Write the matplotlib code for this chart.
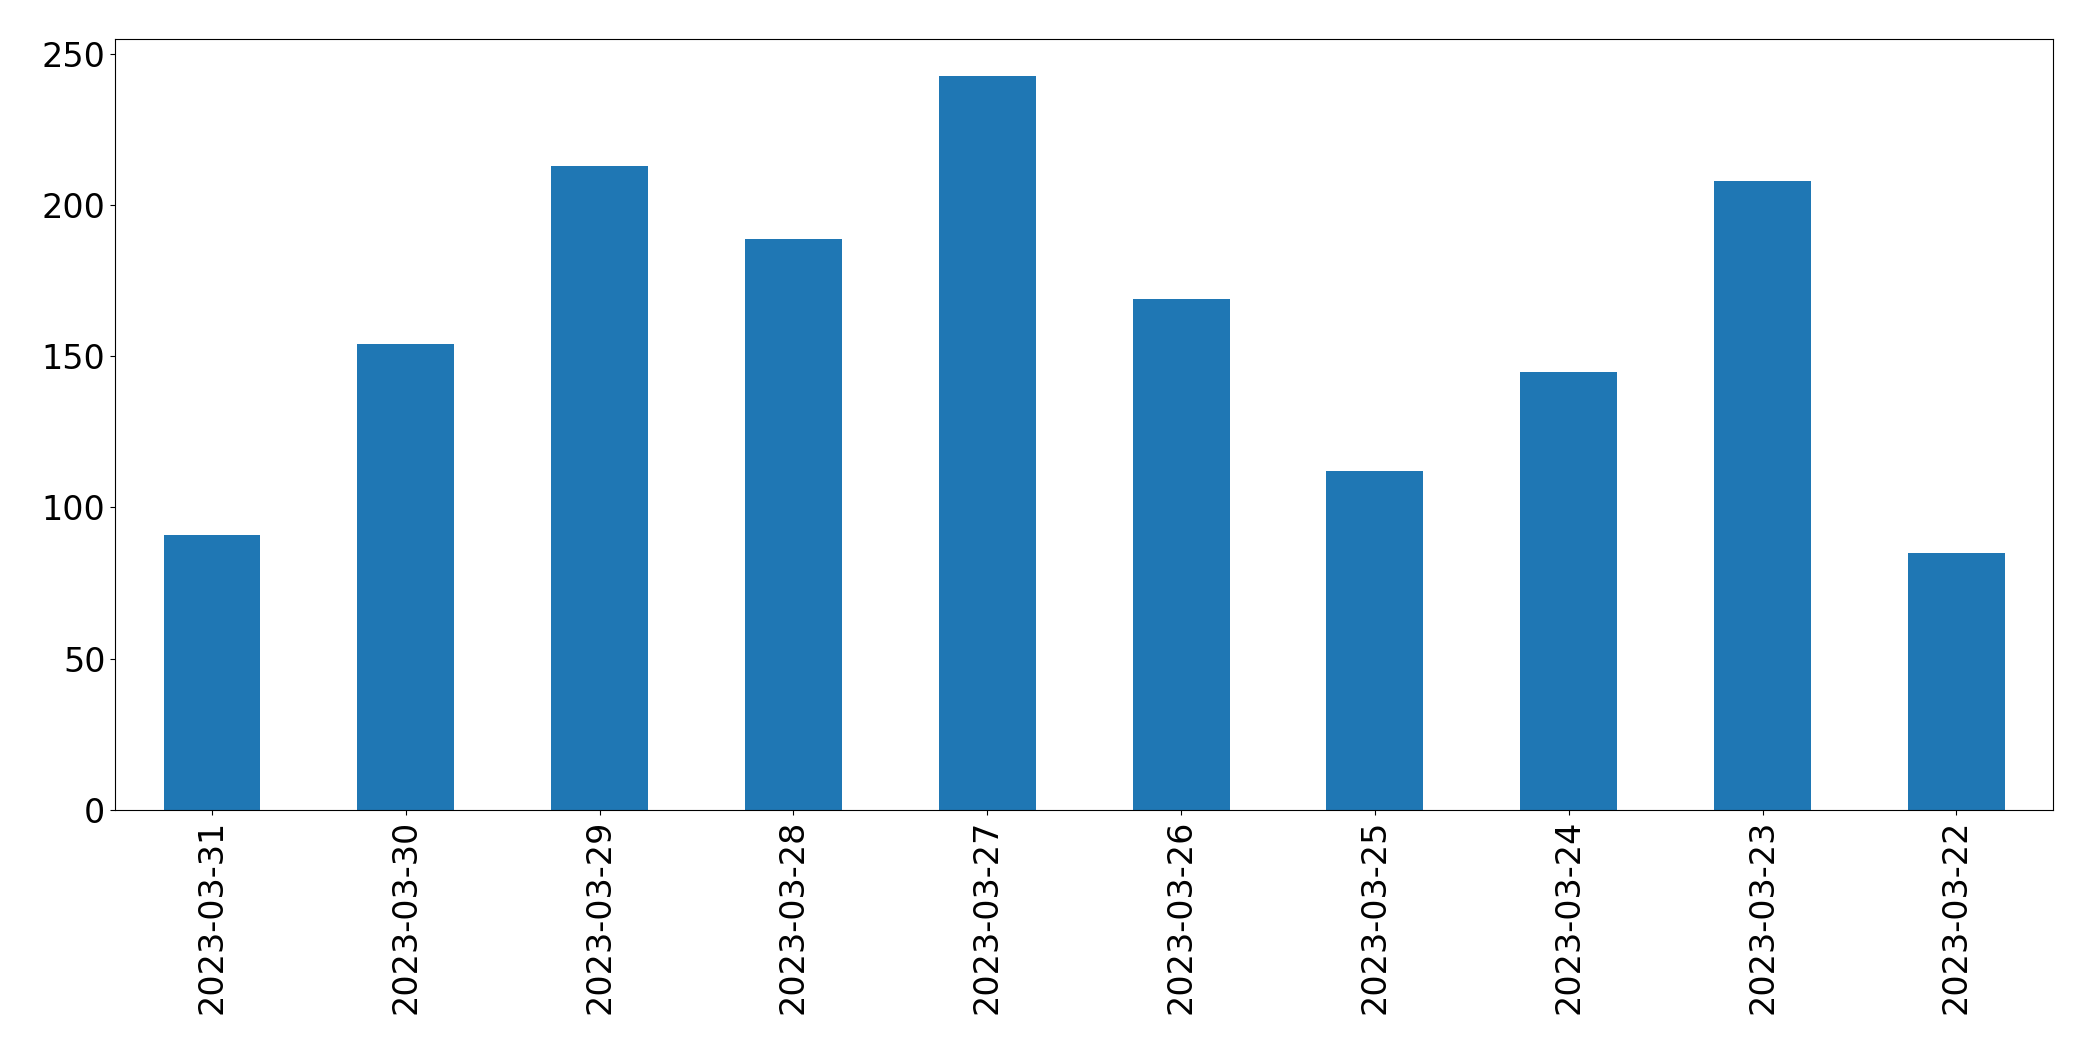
import matplotlib
matplotlib.use("Agg")
import matplotlib.pyplot as plt

dates = ["2023-03-31","2023-03-30","2023-03-29","2023-03-28","2023-03-27",
         "2023-03-26","2023-03-25","2023-03-24","2023-03-23","2023-03-22"]
counts = [91, 154, 213, 189, 243, 169, 112, 145, 208, 85]

fig = plt.figure(figsize=(20.93, 10.61), dpi=100)
ax = fig.add_axes([0.055, 0.237, 0.926, 0.726])
x = range(len(dates))
ax.bar(x, counts, width=0.5, color="#1f77b4")
ax.set_xlim(-0.5, len(dates) - 0.5)
ax.set_ylim(0, 255)
ax.set_xticks(list(x))
ax.set_xticklabels(dates, rotation=90)
ax.tick_params(labelsize=24)
fig.savefig("out.png", dpi=100)
